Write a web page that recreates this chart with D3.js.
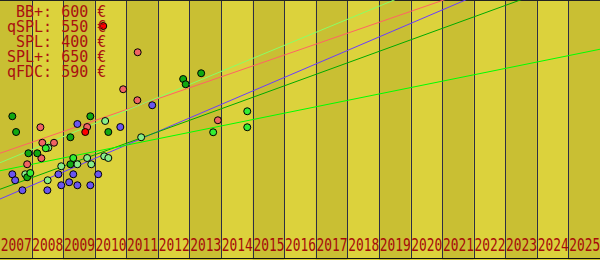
<!DOCTYPE html>
<html><head><meta charset="utf-8">
<script src="https://cdn.jsdelivr.net/npm/d3@7"></script>
<style>body{margin:0;background:#dcd23c}svg{display:block}</style>
</head><body>
<svg id="c" width="600" height="260"></svg>
<script>
const years = d3.range(2007, 2026);
const legendNames = ["BB+", "qSPL", "SPL", "SPL+", "qFDC"];
const legendPrices = [600, 550, 400, 650, 590];

// points: [year, price]
const seriesBB = [[2008.28,451],[2008.34,389],[2008.71,389],[2008.31,327],[2007.86,303],[2009.76,452],[2010.90,603],[2011.35,559],[2011.36,751],[2013.90,479]];
const seriesQSPL = [[2008.53,369],[2010.33,476],[2009.76,328],[2010.30,335],[2010.43,328],[2008.94,295],[2009.45,303],[2009.89,303],[2007.80,263],[2008.51,239],[2011.47,411]];
const seriesSPL = [[2009.45,464],[2010.81,452],[2011.82,539],[2007.39,263],[2007.48,239],[2007.71,199],[2008.50,199],[2008.85,263],[2009.32,263],[2010.11,263],[2009.19,231],[2008.94,219],[2009.45,219],[2009.86,219]];
const seriesSPLp = [[2007.39,495],[2007.51,432],[2009.86,495],[2009.23,411],[2010.43,432],[2007.90,347],[2008.18,347],[2009.23,303],[2007.86,251],[2012.80,644],[2012.88,623],[2013.37,667]];
const seriesQFDC = [[2008.45,367],[2009.32,328],[2007.96,268],[2013.75,431],[2014.83,515],[2014.83,451]];
const highlight = [[2010.27,856],[2009.70,432]];

// trend lines: value at 2007 and at 2026
const trendStart = [347, 309, 164, 203, 277];
const trendEnd = [1176, 1300, 1190, 1076, 763];

const pointColors = ["#f06464", "#88ee88", "#6a55f0", "#11a811", "#33ee33"];
const lineColors = ["#ff6464", "#88ff66", "#6a3cff", "#00aa00", "#00ff00"];

const W = 600, H = 260, plotH = 240;
const svg = d3.select("#c");
const x = d3.scaleLinear().domain([2007, 2026]).range([0, W]);
const y = d3.scaleLinear().domain([0, 960]).range([plotH, 0]);

svg.append("defs").append("clipPath").attr("id", "clip")
  .append("rect").attr("x", 0).attr("y", 0).attr("width", W).attr("height", 258);

// bands
svg.append("g").selectAll("rect").data(years).join("rect")
  .attr("x", d => x(d)).attr("y", 0)
  .attr("width", d => x(d + 1) - x(d)).attr("height", H)
  .attr("fill", (d, i) => i % 2 === 0 ? "#c9bf33" : "#dcd23c");

// year labels
const axis = d3.axisBottom(x).tickValues(years.map(d => d + 0.5))
  .tickFormat(d => String(Math.floor(d))).tickSize(0).tickPadding(0);
const ag = svg.append("g").attr("transform", "translate(0,251)").call(axis);
ag.select(".domain").remove();
ag.selectAll("text")
  .attr("y", 0).attr("dy", 0)
  .attr("font-family", "DejaVu Sans Mono").attr("font-size", 18)
  .attr("fill", "#a50a0a")
  .attr("textLength", 31).attr("lengthAdjust", "spacingAndGlyphs");

// vertical lines
svg.append("g").selectAll("line").data(years.slice(1)).join("line")
  .attr("x1", d => Math.round(x(d)) + 0.5).attr("x2", d => Math.round(x(d)) + 0.5)
  .attr("y1", 0).attr("y2", 258)
  .attr("stroke", "#2e2e44").attr("stroke-width", 1);

// frame top/bottom
svg.append("line").attr("x1", 0).attr("x2", W).attr("y1", 0.5).attr("y2", 0.5).attr("stroke", "#222");
svg.append("line").attr("x1", 0).attr("x2", W).attr("y1", 258.5).attr("y2", 258.5).attr("stroke", "#111");

// trend lines
const lg = svg.append("g").attr("clip-path", "url(#clip)");
legendNames.forEach((n, i) => {
  lg.append("line")
    .attr("x1", x(2007)).attr("y1", y(trendStart[i]))
    .attr("x2", x(2026)).attr("y2", y(trendEnd[i]))
    .attr("stroke", lineColors[i]).attr("stroke-width", 1);
});

// points
const allSeries = [seriesBB, seriesQSPL, seriesSPL, seriesSPLp, seriesQFDC];
const pg = svg.append("g");
allSeries.forEach((s, i) => {
  pg.append("g").selectAll("circle").data(s).join("circle")
    .attr("cx", d => x(d[0])).attr("cy", d => y(d[1])).attr("r", 3.5)
    .attr("fill", pointColors[i]).attr("stroke", "#000").attr("stroke-width", 1);
});
pg.append("g").selectAll("circle").data(highlight).join("circle")
  .attr("cx", d => x(d[0])).attr("cy", d => y(d[1])).attr("r", 3.5)
  .attr("fill", "#ff0000").attr("stroke", "#000").attr("stroke-width", 1);

// legend
const maxLen = d3.max(legendNames, d => d.length);
svg.append("g").selectAll("text").data(legendNames).join("text")
  .attr("x", 7).attr("y", (d, i) => 17.3 + i * 15)
  .attr("font-family", "DejaVu Sans Mono").attr("font-size", 15)
  .attr("fill", "#aa1010")
  .style("white-space", "pre")
  .text((d, i) => d.padStart(maxLen, " ") + ": " + legendPrices[i] + " €");
</script>
</body></html>
